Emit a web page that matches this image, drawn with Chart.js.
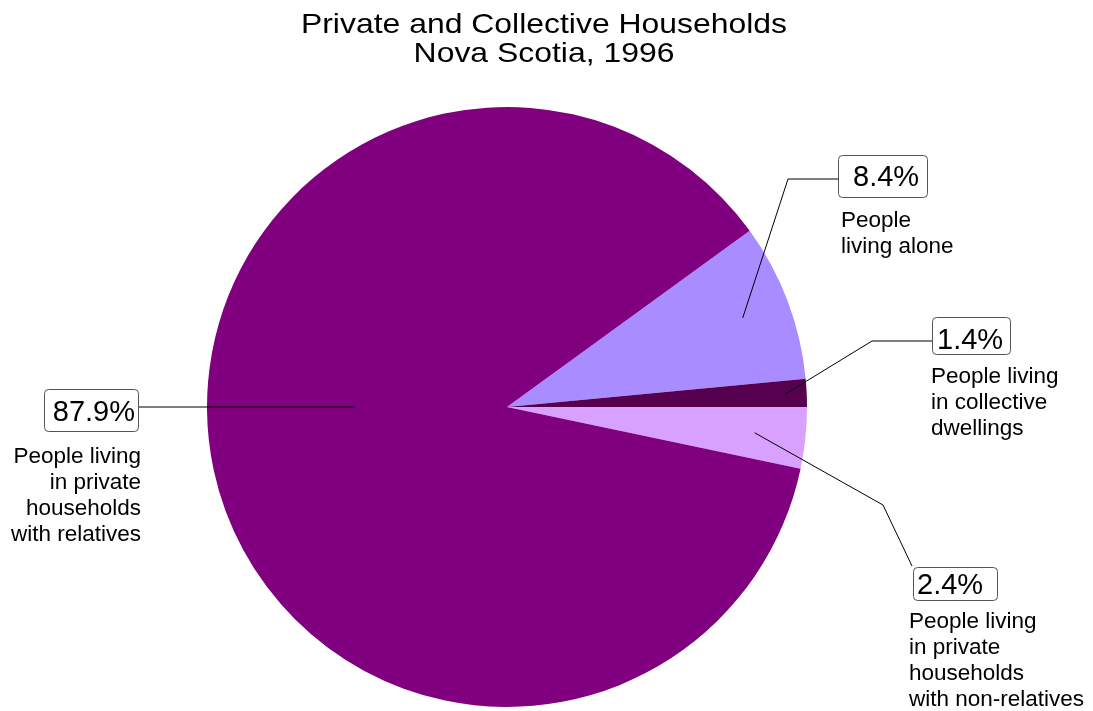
<!DOCTYPE html>
<html>
<head>
<meta charset="utf-8">
<script src="https://cdn.jsdelivr.net/npm/chart.js@4.4.1/dist/chart.umd.min.js"></script>
<style>
  html, body { margin: 0; padding: 0; background: #fff; }
  #wrap { width: 1093px; height: 711px; position: relative; }
</style>
</head>
<body>
<div id="wrap"><canvas id="chartHouseholds"></canvas></div>
<script>
// Du lieu doc tu hinh (thu tu theo chieu kim dong ho)
const categories = [
    'People living alone',
    'People living in collective dwellings',
    'People living in private households with non-relatives',
    'People living in private households with relatives'
];
const shares = [8.5, 1.5, 3.3, 86.7];           // kich thuoc lat cat nhu tren hinh
const percentLabels = ['8.4%', '1.4%', '2.4%', '87.9%'];
const labelLines = [
    ['People', 'living alone'],
    ['People living', 'in collective', 'dwellings'],
    ['People living', 'in private', 'households', 'with non-relatives'],
    ['People living', 'in private', 'households', 'with relatives']
];
const sliceColors = ['#a98cff', '#580050', '#d8a0ff', '#800080'];
const titleLines = ['Private and Collective Households', 'Nova Scotia, 1996'];

// Vi tri cac o chu thich (chi la bo cuc)
const callouts = [
    { frac: 0.84, path: [[788, 179], [838, 179]], box: [838.5, 155.5, 89, 42], pct: [853, 186, 'left'], lab: [841, 227, 'left'] },
    { frac: 0.93, path: [[872, 341], [932, 341]], box: [932.5, 317.5, 78, 37], pct: [937, 349, 'left'], lab: [931, 383, 'left'] },
    { frac: 0.83, path: [[883, 505], [912, 566]], box: [913.5, 567.5, 84, 33], pct: [917, 594, 'left'], lab: [909, 628, 'left'] },
    { frac: 0.507, angle: Math.PI, path: [[139, 407]], box: [44.5, 389.5, 94, 42], pct: [135, 421, 'right'], lab: [141, 463, 'right'] }
];

const FONT = '"Liberation Sans", Arial, Helvetica, sans-serif';

const calloutPlugin = {
    id: 'callouts',
    afterDatasetsDraw(chart) {
        const ctx = chart.ctx;
        const arcs = chart.getDatasetMeta(0).data;
        ctx.save();

        // tieu de (chu hoi gian ngang nhu hinh goc)
        ctx.fillStyle = '#000';
        ctx.font = '28px ' + FONT;
        ctx.textAlign = 'center';
        ctx.textBaseline = 'alphabetic';
        titleLines.forEach((t, i) => {
            ctx.save();
            ctx.translate(544, 33 + i * 28.5);
            ctx.scale(1.14, 1);
            ctx.fillText(t, 0, 0);
            ctx.restore();
        });

        arcs.forEach((arc, i) => {
            const c = callouts[i];
            const p = arc.getProps(['x', 'y', 'startAngle', 'endAngle', 'outerRadius'], true);
            const a = c.angle !== undefined ? c.angle : (p.startAngle + p.endAngle) / 2;
            const ax = p.x + Math.cos(a) * p.outerRadius * c.frac;
            const ay = p.y + Math.sin(a) * p.outerRadius * c.frac;

            // duong noi
            ctx.strokeStyle = '#000';
            ctx.lineWidth = 1;
            ctx.beginPath();
            ctx.moveTo(ax, ay);
            c.path.forEach(pt => ctx.lineTo(pt[0], pt[1]));
            ctx.stroke();

            // o phan tram
            const [bx, by, bw, bh] = c.box;
            ctx.beginPath();
            ctx.roundRect(bx, by, bw, bh, 4);
            ctx.fillStyle = '#fff';
            ctx.fill();
            ctx.strokeStyle = '#555';
            ctx.stroke();

            ctx.fillStyle = '#000';
            ctx.font = '29px ' + FONT;
            ctx.textAlign = c.pct[2];
            ctx.fillText(percentLabels[i], c.pct[0], c.pct[1]);

            // nhan
            ctx.font = '22.5px ' + FONT;
            ctx.textAlign = c.lab[2];
            labelLines[i].forEach((line, k) => ctx.fillText(line, c.lab[0], c.lab[1] + k * 26));
        });
        ctx.restore();
    }
};

document.addEventListener('DOMContentLoaded', function () {
    const ctxPie = document.getElementById('chartHouseholds').getContext('2d');
    new Chart(ctxPie, {
        type: 'pie',
        data: {
            labels: categories,
            datasets: [{
                data: shares,
                backgroundColor: sliceColors,
                borderWidth: 0,
                hoverOffset: 0
            }]
        },
        options: {
            responsive: true,
            maintainAspectRatio: false,
            animation: false,
            rotation: 54,
            layout: { padding: { left: 207, right: 286, top: 107, bottom: 4 } },
            plugins: { legend: { display: false }, tooltip: { enabled: false }, title: { display: false } }
        },
        plugins: [calloutPlugin]
    });
});
</script>
</body>
</html>
